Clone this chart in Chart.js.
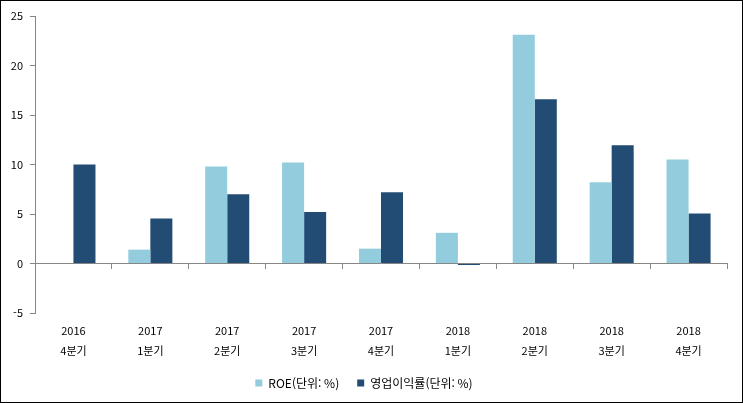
<!DOCTYPE html>
<html lang="ko">
<head>
    <meta charset="UTF-8">
    <title>ROE / 영업이익률</title>
    <script src="https://cdn.jsdelivr.net/npm/chart.js"></script>
    <style>
        html, body {
            margin: 0;
            padding: 0;
            background: #ffffff;
        }
        .frame {
            box-sizing: border-box;
            width: 743px;
            height: 403px;
            border: 1px solid #000000;
            position: relative;
        }
        #chart {
            display: block;
        }
    </style>
</head>
<body>
    <div class="frame">
        <canvas id="chart" width="741" height="401"></canvas>
    </div>

    <script>
        // Data
        const quarters = [
            ['2016', '4분기'], ['2017', '1분기'], ['2017', '2분기'], ['2017', '3분기'],
            ['2017', '4분기'], ['2018', '1분기'], ['2018', '2분기'], ['2018', '3분기'], ['2018', '4분기']
        ];
        const roe = [0, 1.4, 9.8, 10.2, 1.5, 3.1, 23.1, 8.2, 10.5];
        const operatingMargin = [10.0, 4.55, 7.0, 5.2, 7.2, -0.15, 16.6, 11.95, 5.05];
        const yTicks = [-5, 0, 5, 10, 15, 20, 25];

        const fontFamily = "'Noto Sans CJK KR', 'DejaVu Sans', sans-serif";
        const tickFont = { family: fontFamily, size: 11 };

        const ctx = document.getElementById('chart').getContext('2d');
        new Chart(ctx, {
            type: 'bar',
            data: {
                labels: quarters,
                datasets: [{
                    label: 'ROE(단위: %)',
                    data: roe,
                    backgroundColor: '#93CCDD',
                    categoryPercentage: 0.573,
                    barPercentage: 1.0
                }, {
                    label: '영업이익률(단위: %)',
                    data: operatingMargin,
                    backgroundColor: '#234C74',
                    categoryPercentage: 0.573,
                    barPercentage: 1.0
                }]
            },
            options: {
                responsive: false,
                animation: false,
                layout: {
                    padding: { top: 15, right: 15, left: 0, bottom: 3 }
                },
                scales: {
                    x: {
                        position: { y: 0 },
                        grid: {
                            display: true,
                            drawOnChartArea: false,
                            drawTicks: true,
                            tickLength: 5,
                            offset: true,
                            color: '#868686'
                        },
                        border: { display: true, color: '#868686', width: 1 },
                        ticks: { display: false }
                    },
                    x2: {
                        type: 'category',
                        labels: quarters,
                        position: 'bottom',
                        offset: true,
                        grid: { display: false },
                        border: { display: false },
                        ticks: {
                            color: '#000000',
                            font: { family: fontFamily, size: 11, lineHeight: 1.8 },
                            padding: 0,
                            maxRotation: 0
                        },
                        afterFit: function(scale) {
                            scale.height = 46;
                        }
                    },
                    y: {
                        min: -5,
                        max: 25,
                        afterBuildTicks: function(scale) {
                            scale.ticks = yTicks.map(v => ({ value: v }));
                        },
                        afterFit: function(scale) {
                            scale.width = 34;
                        },
                        grid: {
                            display: true,
                            drawOnChartArea: false,
                            drawTicks: true,
                            tickLength: 5,
                            color: '#868686'
                        },
                        border: { display: true, color: '#868686', width: 1 },
                        ticks: {
                            color: '#000000',
                            font: tickFont,
                            padding: 7
                        }
                    }
                },
                plugins: {
                    legend: {
                        position: 'bottom',
                        labels: {
                            color: '#000000',
                            font: { family: fontFamily, size: 12 },
                            boxWidth: 7,
                            boxHeight: 7,
                            padding: 18
                        }
                    },
                    tooltip: { enabled: false }
                }
            }
        });
    </script>
</body>
</html>
